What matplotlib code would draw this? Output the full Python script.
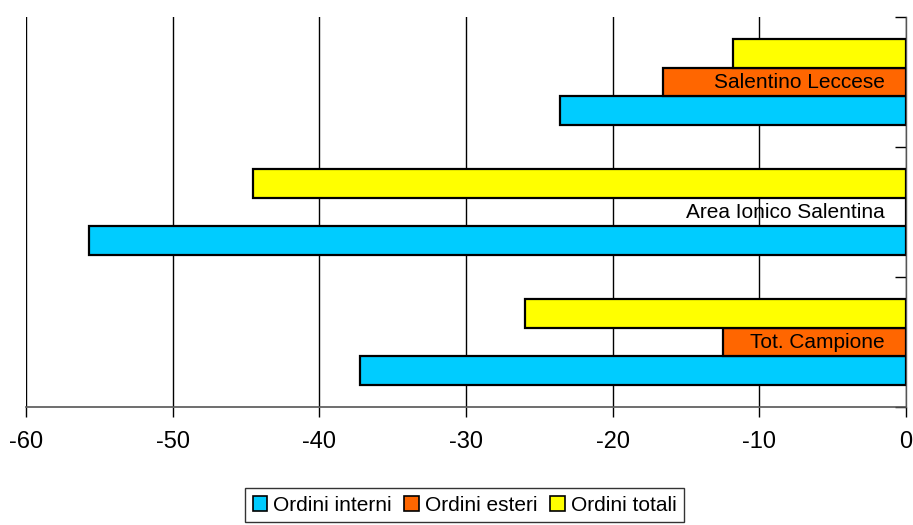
import numpy as np
import matplotlib.pyplot as plt
from matplotlib.patches import Patch

plt.rcParams['font.family'] = ['Liberation Sans', 'DejaVu Sans']

# categories from bottom to top
zone = ["Tot. Campione", "Area Ionico Salentina", "Salentino Leccese"]
interni = [-37.2, -55.7, -23.6]
esteri = [-12.5, 0.0, -16.6]
totali = [-26.0, -44.5, -11.8]
xticks = [-60, -50, -40, -30, -20, -10, 0]

c_int = "#00CCFF"
c_est = "#FF6600"
c_tot = "#FFFF00"

fig = plt.figure(figsize=(9.13, 5.25), dpi=100)
ax = fig.add_axes([26 / 913, 118 / 525, 880 / 913, 390 / 525])

y = np.arange(len(zone))
h = 0.223
bar_kw = dict(height=h, edgecolor="black", linewidth=1.6, zorder=3)
ax.barh(y - h, interni, color=c_int, **bar_kw)
ax.barh(y, esteri, color=c_est, **bar_kw)
ax.barh(y + h, totali, color=c_tot, **bar_kw)

# zone names written inside the plot, right aligned near zero
for yi, name in zip(y, zone):
    ax.text(-1.45, yi, name, ha="right", va="center", fontsize=15, zorder=4)

ax.set_xlim(-60, 0)
ax.set_ylim(-0.5, 2.5)
ax.set_xticks(xticks)
ax.set_xticklabels([str(v) for v in xticks])
ax.xaxis.grid(True, color="black", linewidth=1.0, zorder=0)
ax.tick_params(axis="x", direction="out", length=7, width=1.0, labelsize=17, pad=10)

ax.set_yticks([-0.5, 0.5, 1.5, 2.5])
ax.set_yticklabels([])
ax.yaxis.tick_right()
ax.tick_params(axis="y", direction="in", length=8, width=1.0)

for s in ["top", "left"]:
    ax.spines[s].set_visible(False)
ax.spines["bottom"].set_color("#555555")
ax.spines["bottom"].set_linewidth(1.2)
ax.spines["right"].set_color("#555555")
ax.spines["right"].set_linewidth(1.0)

handles = [Patch(facecolor=c_int, edgecolor="black", linewidth=1.2, label="Ordini interni"),
           Patch(facecolor=c_est, edgecolor="black", linewidth=1.2, label="Ordini esteri"),
           Patch(facecolor=c_tot, edgecolor="black", linewidth=1.2, label="Ordini totali")]
leg = fig.legend(handles=handles, loc="center", bbox_to_anchor=(0.509, 0.038), ncol=3,
                 fontsize=15, frameon=True, fancybox=False, edgecolor="black",
                 handlelength=0.7, handleheight=0.7, handletextpad=0.3,
                 columnspacing=0.6, borderpad=0.35, borderaxespad=0)
leg.get_frame().set_linewidth(1.0)

fig.savefig("out.png", dpi=100)
